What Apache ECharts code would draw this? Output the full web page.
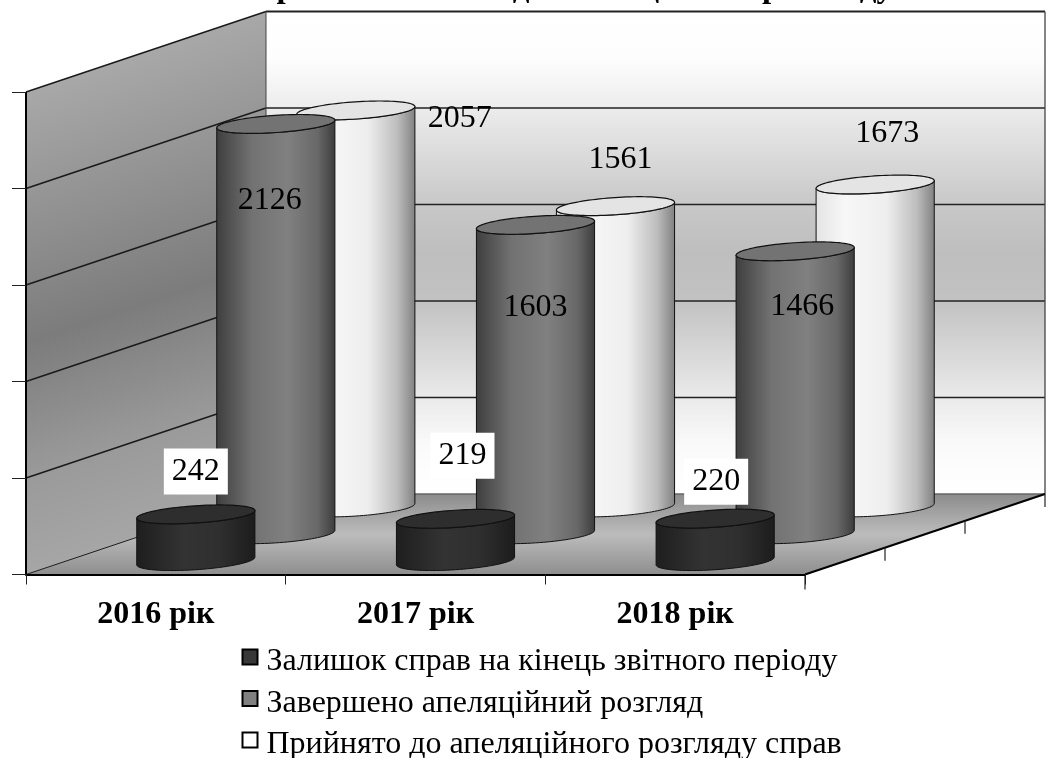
<!DOCTYPE html>
<html>
<head>
<meta charset="utf-8">
<style>
html, body { margin: 0; padding: 0; background: #fff; }
#main { width: 1051px; height: 758px; }
</style>
<script src="https://cdn.jsdelivr.net/npm/echarts@6/dist/echarts.min.js"></script>
</head>
<body>
<div id="main"></div>
<script>
var titleText = 'Кількість справ включених до апеляційного розгляду';
var categories = ['2016 рік', '2017 рік', '2018 рік'];
var seriesNames = ['Залишок справ на кінець звітного періоду', 'Завершено апеляційний розгляд', 'Прийнято до апеляційного розгляду справ'];
var leftover = [242, 219, 220];
var finished = [2126, 1603, 1466];
var accepted = [2057, 1561, 1673];
var yTicks = [0, 500, 1000, 1500, 2000, 2500];

// depth of the fake 3D box, px per series row
var depthX = 80, depthY = 26.83, rows = 3;
var radiusX = 59.2, radiusY = 8.6, tilt = -3.8 * Math.PI / 180;
var fontName = '"Liberation Serif", "Times New Roman", serif';
var grad = echarts.graphic.LinearGradient;

// label shift from the centre of the cylinder top
var shiftDark = [[0, -43], [7, -63], [1, -37]];
var shiftMid = [[-6, 77], [0, 83], [7, 55]];
var shiftLight = [[104, 8], [5, -47], [12, -51]];

function ellipsePoint(cx, cy, t) {
	return [
		cx + radiusX * Math.cos(t) * Math.cos(tilt) - radiusY * Math.sin(t) * Math.sin(tilt),
		cy + radiusX * Math.cos(t) * Math.sin(tilt) + radiusY * Math.sin(t) * Math.cos(tilt)
	];
}

function cylinder(row, bodyStops, capColor, shifts, boxed) {
	return function (params, api) {
		var i = api.value(0), v = api.value(1);
		var base = api.coord([i, 0]), top = api.coord([i, v]);
		var cx = base[0] + depthX * (row + 0.5);
		var by = base[1] - depthY * (row + 0.5);
		var ty = top[1] - depthY * (row + 0.5);
		var t0 = Math.atan(-(radiusY / radiusX) * Math.tan(tilt));
		var body = [], cap = [], n = 48, k;
		for (k = 0; k <= n; k++) {
			body.push(ellipsePoint(cx, by, t0 + Math.PI * k / n));
		}
		for (k = n; k >= 0; k--) {
			body.push(ellipsePoint(cx, ty, t0 + Math.PI * k / n));
		}
		for (k = 0; k < n * 2; k++) {
			cap.push(ellipsePoint(cx, ty, Math.PI * k / n));
		}
		var shift = shifts[i];
		var labelStyle = {
			text: String(v),
			x: cx + shift[0],
			y: ty + shift[1],
			align: 'center',
			verticalAlign: 'middle',
			fill: '#000',
			font: '32px ' + fontName
		};
		if (boxed) {
			labelStyle.backgroundColor = '#fff';
			labelStyle.padding = [8, 8, 6, 8];
		}
		return {
			type: 'group',
			children: [{
				type: 'polygon',
				shape: { points: body },
				style: { fill: new grad(0, 0, 1, 0, bodyStops), stroke: '#111', lineWidth: 1 }
			}, {
				type: 'polygon',
				shape: { points: cap },
				style: { fill: capColor, stroke: '#111', lineWidth: 1.2 }
			}, {
				type: 'text',
				style: labelStyle
			}]
		};
	};
}

function renderRoom(params, api) {
	var sys = params.coordSys;
	var x0 = sys.x, x1 = sys.x + sys.width;
	var dx = depthX * rows, dy = depthY * rows;
	var yBase = api.coord([0, 0])[1];
	var yTop = api.coord([0, yTicks[yTicks.length - 1]])[1];
	var kids = [];

	function line(a, b, color, width) {
		kids.push({
			type: 'line',
			shape: { x1: a[0], y1: a[1], x2: b[0], y2: b[1] },
			style: { stroke: color, lineWidth: width }
		});
	}

	// back wall
	kids.push({
		type: 'polygon',
		shape: { points: [[x0 + dx, yTop - dy], [x1 + dx, yTop - dy], [x1 + dx, yBase - dy], [x0 + dx, yBase - dy]] },
		style: {
			fill: new grad(0, 0, 0, 1, [
				{ offset: 0, color: '#ffffff' }, { offset: 0.1, color: '#fdfdfd' },
				{ offset: 0.2, color: '#ececec' }, { offset: 0.4, color: '#c8c8c8' },
				{ offset: 0.5, color: '#bebebe' }, { offset: 0.6, color: '#c2c2c2' },
				{ offset: 0.8, color: '#eaeaea' }, { offset: 0.9, color: '#fafafa' },
				{ offset: 1, color: '#ffffff' }
			])
		}
	});
	// side wall, the shading runs along its slope
	var k = (yBase - yTop) / (1 + (dy / dx) * (dy / dx));
	kids.push({
		type: 'polygon',
		shape: { points: [[x0, yTop], [x0 + dx, yTop - dy], [x0 + dx, yBase - dy], [x0, yBase]] },
		style: {
			fill: new grad(x0, yTop, x0 + k * dy / dx, yTop + k, [
				{ offset: 0, color: '#a8a8a8' }, { offset: 0.25, color: '#939393' },
				{ offset: 0.52, color: '#7c7c7c' }, { offset: 0.8, color: '#9a9a9a' },
				{ offset: 1, color: '#a6a6a6' }
			], true)
		}
	});
	// floor
	kids.push({
		type: 'polygon',
		shape: { points: [[x0, yBase], [x0 + dx, yBase - dy], [x1 + dx, yBase - dy], [x1, yBase]] },
		style: {
			fill: new grad(0, 0, 0, 1, [
				{ offset: 0, color: '#8c8c8c' }, { offset: 0.5, color: '#bcbcbc' },
				{ offset: 1, color: '#8e8e8e' }
			])
		}
	});
	// grid lines on both walls
	yTicks.forEach(function (t) {
		var y = api.coord([0, t])[1];
		var top = t === yTicks[yTicks.length - 1];
		line([x0, y], [x0 + dx, y - dy], '#1a1a1a', t === 0 ? 1 : 1.5);
		line([x0 + dx, y - dy], [x1 + dx, y - dy], t === 0 ? '#666' : '#222', top ? 2 : 1.3);
	});
	line([x0 + dx, yTop - dy], [x0 + dx, yBase - dy], '#444', 1);
	line([x1 + dx, yTop - dy], [x1 + dx, yBase - dy], '#444', 1.3);
	line([x0, yTop], [x0, yBase], '#000', 2);
	line([x1, yBase], [x1 + dx, yBase - dy], '#000', 2);
	// ticks along the depth edge
	for (var r = 0; r <= rows; r++) {
		var px = x1 + depthX * r, py = yBase - depthY * r;
		line([px, py], [px, py + (r === 0 ? 15 : 13)], '#222', 1.2);
	}
	return { type: 'group', children: kids };
}

function points(values) {
	return values.map(function (v, i) { return [i, v]; });
}

var myChart = echarts.init(document.getElementById('main'));

myChart.setOption({
	animation : false,
	backgroundColor : '#fff',
	title : {
		text : titleText,
		left : 84,
		top : -33,
		textStyle : { fontFamily : fontName, fontSize : 33, fontWeight : 'bold', color : '#000' }
	},
	grid : { left : 26, top : 92, width : 779, height : 482.5 },
	xAxis : {
		type : 'category',
		data : categories,
		z : 6,
		axisLine : { lineStyle : { color : '#000', width : 2 } },
		axisTick : { show : true, length : 10, lineStyle : { color : '#222' } },
		axisLabel : { margin : 24, fontFamily : fontName, fontSize : 32, fontWeight : 'bold', color : '#000' }
	},
	yAxis : {
		type : 'value',
		min : 0,
		max : 2500,
		interval : 500,
		z : 6,
		splitLine : { show : false },
		axisLine : { show : false },
		axisTick : { show : true, length : 14, lineStyle : { color : '#222' } },
		axisLabel : { show : false }
	},
	legend : {
		orient : 'vertical',
		left : 241.5,
		top : 646,
		width : 640,
		height : 140,
		padding : 0,
		itemWidth : 15,
		itemHeight : 15,
		itemGap : 9.5,
		icon : 'rect',
		data : seriesNames,
		itemStyle : { borderColor : '#000', borderWidth : 2 },
		formatter : function (name) {
			return '{t|' + name + '}';
		},
		textStyle : {
			rich : {
				t : { fontFamily : fontName, fontSize : 32, color : '#000', padding : [10, 0, 0, 4] }
			}
		}
	},
	series : [ {
		type : 'custom',
		name : 'room',
		silent : true,
		z : 1,
		data : [ [ 0, 0 ] ],
		renderItem : renderRoom
	}, {
		type : 'custom',
		name : seriesNames[2],
		z : 2,
		itemStyle : { color : '#ffffff' },
		data : points(accepted),
		renderItem : cylinder(2, [
			{ offset: 0, color: '#e4e4e4' }, { offset: 0.25, color: '#f7f7f7' },
			{ offset: 0.6, color: '#eeeeee' }, { offset: 0.85, color: '#bdbdbd' },
			{ offset: 1, color: '#808080' }
		], '#e4e4e4', shiftLight, false)
	}, {
		type : 'custom',
		name : seriesNames[1],
		z : 3,
		itemStyle : { color : '#808080' },
		data : points(finished),
		renderItem : cylinder(1, [
			{ offset: 0, color: '#3e3e3e' }, { offset: 0.3, color: '#727272' },
			{ offset: 0.6, color: '#808080' }, { offset: 0.85, color: '#686868' },
			{ offset: 1, color: '#3c3c3c' }
		], '#737373', shiftMid, false)
	}, {
		type : 'custom',
		name : seriesNames[0],
		z : 4,
		itemStyle : { color : '#383838' },
		data : points(leftover),
		renderItem : cylinder(0, [
			{ offset: 0, color: '#1e1e1e' }, { offset: 0.4, color: '#333333' },
			{ offset: 0.7, color: '#2f2f2f' }, { offset: 1, color: '#1c1c1c' }
		], '#2e2e2e', shiftDark, true)
	} ]
});
</script>
</body>
</html>
